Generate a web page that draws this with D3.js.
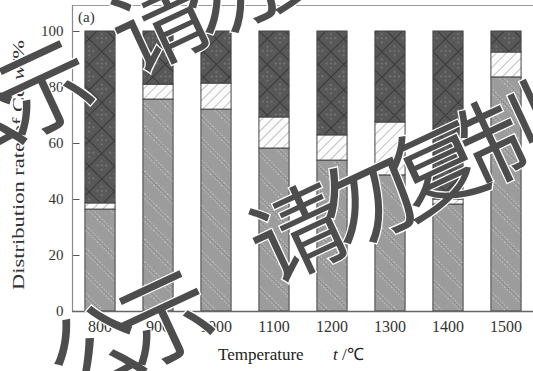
<!DOCTYPE html>
<html>
<head>
<meta charset="utf-8">
<script src="https://cdn.jsdelivr.net/npm/d3@7"></script>
<style>
  html, body { margin: 0; padding: 0; background: #fff; }
  svg { display: block; }
</style>
</head>
<body>
<svg id="chart" width="533" height="371"></svg>
<script>
// Cd distribution (%) by temperature, three fractions stacked bottom → top
const categories = ["800", "900", "1000", "1100", "1200", "1300", "1400", "1500"];
const lowValues  = [36.4, 75.7, 72.1, 58.2, 53.9, 48.6, 38.2, 83.6];
const midValues  = [2.2, 5.3, 9.3, 11.1, 9.0, 18.9, 1.8, 8.9];
const highValues = [61.4, 19.0, 18.6, 30.7, 37.1, 32.5, 60.0, 7.5];
const yTicks = [0, 20, 40, 60, 80, 100];
const seriesKeys = ["low", "mid", "high"];

const svg = d3.select("#chart");
const serif = "'Liberation Serif', 'Times New Roman', serif";

// ---- fill patterns ----
const defs = svg.append("defs");

// bottom fraction: mid gray with dotted back-diagonal bands
const pLow = defs.append("pattern").attr("id", "pLow")
  .attr("patternUnits", "userSpaceOnUse").attr("width", 16).attr("height", 16)
  .attr("patternTransform", "rotate(45)");
pLow.append("rect").attr("width", 16).attr("height", 16).attr("fill", "#9c9c9c");
[3, 6].forEach(y => pLow.append("line").attr("x1", 0).attr("x2", 16).attr("y1", y).attr("y2", y)
  .attr("stroke", "#d2d2d2").attr("stroke-width", 1.2).attr("stroke-dasharray", "1.2 1.8"));
pLow.append("line").attr("x1", 0).attr("x2", 16).attr("y1", 4.5).attr("y2", 4.5)
  .attr("stroke", "#727272").attr("stroke-width", 0.8).attr("stroke-dasharray", "1.5 1.5");

// middle fraction: white with light forward diagonals
const pMid = defs.append("pattern").attr("id", "pMid")
  .attr("patternUnits", "userSpaceOnUse").attr("width", 7).attr("height", 7)
  .attr("patternTransform", "rotate(-45)");
pMid.append("rect").attr("width", 7).attr("height", 7).attr("fill", "#fbfbfb");
pMid.append("line").attr("x1", 0).attr("x2", 7).attr("y1", 3.5).attr("y2", 3.5)
  .attr("stroke", "#c2c2c2").attr("stroke-width", 1);

// top fraction: dark gray cross-hatch
const pHigh = defs.append("pattern").attr("id", "pHigh")
  .attr("patternUnits", "userSpaceOnUse").attr("width", 18).attr("height", 18)
  .attr("patternTransform", "rotate(45)");
pHigh.append("rect").attr("width", 18).attr("height", 18).attr("fill", "#585858");
pHigh.append("line").attr("x1", 0).attr("x2", 18).attr("y1", 0.5).attr("y2", 0.5)
  .attr("stroke", "#3a3a3a").attr("stroke-width", 1.1);
pHigh.append("line").attr("y1", 0).attr("y2", 18).attr("x1", 0.5).attr("x2", 0.5)
  .attr("stroke", "#3a3a3a").attr("stroke-width", 1.1);
[[6, 6], [12, 12], [6, 12], [12, 6], [9, 9]].forEach(([cx, cy]) =>
  pHigh.append("circle").attr("cx", cx).attr("cy", cy).attr("r", 0.9).attr("fill", "#7c7c7c"));

const fills = { low: "url(#pLow)", mid: "url(#pMid)", high: "url(#pHigh)" };

// ---- scales ----
const x = d3.scaleBand().domain(categories).range([71, 535])
  .paddingInner(0.48).paddingOuter(0.24);
const y = d3.scaleLinear().domain([0, 100]).range([311, 31]);

// ---- stacked data ----
const table = categories.map((c, i) => ({
  cat: c, low: lowValues[i], mid: midValues[i], high: highValues[i]
}));
const stacked = d3.stack().keys(seriesKeys)(table);

// frame
svg.append("line").attr("x1", 72).attr("x2", 533).attr("y1", 5.5).attr("y2", 5.5)
  .attr("stroke", "#9a9a9a").attr("stroke-width", 1.2);

// bars
svg.append("g").selectAll("g").data(stacked).join("g")
  .attr("fill", d => fills[d.key])
  .selectAll("rect").data(d => d).join("rect")
  .attr("x", d => x(d.data.cat))
  .attr("width", x.bandwidth())
  .attr("y", d => y(d[1]))
  .attr("height", d => y(d[0]) - y(d[1]))
  .attr("stroke", "#454545").attr("stroke-width", 1);

// y axis (ticks pointing inward)
const yAxis = svg.append("g").attr("transform", "translate(72.5,0)")
  .call(d3.axisLeft(y).tickValues(yTicks).tickSizeInner(-7).tickSizeOuter(0).tickPadding(9));
yAxis.select(".domain").remove();
yAxis.selectAll(".tick line").attr("stroke", "#555");
yAxis.selectAll("text").attr("font-family", serif).attr("font-size", 15).attr("fill", "#333");
svg.append("line").attr("x1", 72.5).attr("x2", 72.5).attr("y1", 5).attr("y2", 311)
  .attr("stroke", "#8a8a8a").attr("stroke-width", 1.2);

// x axis
const xAxis = svg.append("g").attr("transform", "translate(0,311)")
  .call(d3.axisBottom(x).tickSize(0).tickPadding(10));
xAxis.select(".domain").remove();
xAxis.selectAll("text").attr("font-family", serif).attr("font-size", 16).attr("fill", "#333");
svg.append("line").attr("x1", 72).attr("x2", 533).attr("y1", 311.5).attr("y2", 311.5)
  .attr("stroke", "#666").attr("stroke-width", 1.3);

// titles
svg.append("text").attr("x", 78).attr("y", 22)
  .attr("font-family", serif).attr("font-size", 15).attr("fill", "#333").text("(a)");

const xt = svg.append("text").attr("y", 360)
  .attr("font-family", serif).attr("font-size", 17).attr("fill", "#222");
xt.append("tspan").attr("x", 218).text("Temperature");
xt.append("tspan").attr("x", 333).attr("font-style", "italic").text("t");
xt.append("tspan").text(" /\u2103");

const yt = svg.append("text")
  .attr("transform", "translate(24,290) rotate(-90)")
  .attr("font-family", serif).attr("font-size", 16.5).attr("fill", "#333")
  .attr("textLength", 250).attr("lengthAdjust", "spacingAndGlyphs");
yt.append("tspan").text("Distribution rate of Cd  ");
yt.append("tspan").attr("font-style", "italic").text("w");
yt.append("tspan").text("/%");

// watermark pieces: [x, y, text]
const wmPieces = [
  [-53, 173, "\u516c\u793a"],
  [132, 75, "\u8bf7\u52ff\u590d\u5236"],
  [67, 403, "\u516c\u793a"],
  [270, 285, "\u8bf7\u52ff\u590d\u5236"]
];
svg.append("g").attr("pointer-events", "none")
  .selectAll("text").data(wmPieces).join("text")
  .attr("transform", d => `translate(${d[0]},${d[1]}) rotate(-25)`)
  .attr("font-family", "'Noto Sans CJK SC', sans-serif")
  .attr("font-weight", 400).attr("font-size", 95)
  .attr("letter-spacing", -18)
  .attr("fill", "#4d4d4d").attr("stroke", "#fff").attr("stroke-width", 2.5)
  .attr("paint-order", "stroke")
  .text(d => d[2]);
</script>
</body>
</html>
